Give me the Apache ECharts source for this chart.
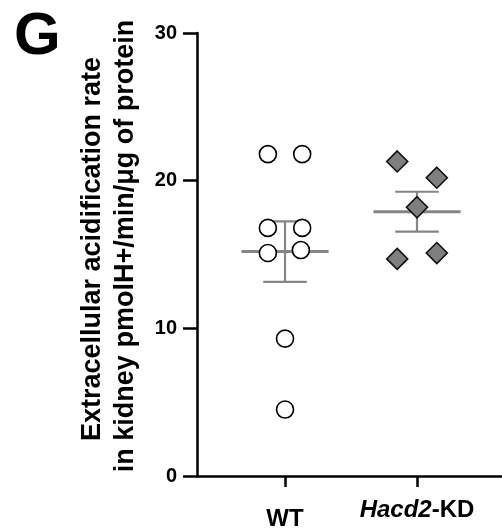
<!DOCTYPE html>
<html><head><meta charset="utf-8">
<script src="https://cdn.jsdelivr.net/npm/echarts@6/dist/echarts.min.js"></script>
<style>html,body{margin:0;padding:0;background:#fff}#c{width:502px;height:531px}</style>
</head><body><div id="c"></div>
<script>
var categories = ['WT', 'Hacd2-KD'];
var categoryX = [1, 2];
var wtValues = [21.8, 21.8, 16.8, 16.8, 15.1, 15.3, 9.3, 4.5];
var wtX = [0.87, 1.13, 0.87, 1.13, 0.87, 1.12, 1.0, 1.0];
var kdValues = [21.3, 20.2, 18.2, 14.7, 15.1];
var kdX = [1.85, 2.15, 2.0, 1.85, 2.15];
var means = [15.2, 17.9];
var sems = [2.05, 1.35];
var yTicks = [0, 10, 20, 30];

var chart = echarts.init(document.getElementById('c'), null, {renderer: 'canvas'});
var font = '"Liberation Sans", Arial, sans-serif';

function pts(xs, ys) { return ys.map(function (v, i) { return [xs[i], v]; }); }

var barData = categoryX.map(function (x, i) { return [x, means[i], means[i] - sems[i], means[i] + sems[i]]; });

chart.setOption({
  animation: false,
  backgroundColor: '#fff',
  grid: {left: 197, right: 0, top: 33, bottom: 54, containLabel: false},
  xAxis: {
    type: 'value', min: 0.333, max: 2.644,
    splitLine: {show: false},
    axisLine: {show: true, onZero: false, lineStyle: {color: '#000', width: 2.5}},
    axisTick: {show: true, customValues: categoryX, length: 11, lineStyle: {color: '#000', width: 2.5}},
    axisLabel: {
      show: true, customValues: categoryX, margin: 22,
      formatter: function (v) {
        var i = categoryX.indexOf(Math.round(v));
        if (i === 1) return '{it|Hacd2}{b|-KD}';
        return '{w|' + categories[0] + '}';
      },
      rich: {
        it: {fontFamily: font, fontWeight: 'bold', fontStyle: 'italic', fontSize: 24, color: '#000'},
        b: {fontFamily: font, fontWeight: 'bold', fontSize: 24, color: '#000'},
        w: {fontFamily: font, fontWeight: 'bold', fontSize: 24, color: '#000', padding: [9, 0, 0, 0]}
      }
    }
  },
  yAxis: {
    type: 'value', min: 0, max: 30, interval: 10,
    splitLine: {show: false},
    axisLine: {show: true, lineStyle: {color: '#000', width: 2.5}},
    axisTick: {show: true, length: 14, lineStyle: {color: '#000', width: 2.5}},
    axisLabel: {margin: 20, fontFamily: font, fontWeight: 'bold', fontSize: 20, color: '#000',
      formatter: function (v) { return yTicks.indexOf(v) >= 0 ? String(v) : ''; }}
  },
  graphic: [
    {type: 'text', left: 14, top: 7, style: {text: 'G', font: 'bold 60px ' + font, fill: '#000'}},
    {type: 'text', x: 93, y: 249, rotation: Math.PI / 2,
      style: {text: 'Extracellular acidification rate', font: 'bold 27px ' + font, fill: '#000', align: 'center', verticalAlign: 'middle'}},
    {type: 'text', x: 126, y: 246, rotation: Math.PI / 2,
      style: {text: 'in kidney pmolH+/min/\u03bcg of protein', font: 'bold 27px ' + font, fill: '#000', align: 'center', verticalAlign: 'middle'}}
  ],
  series: [
    {
      type: 'custom', z: 1,
      data: barData,
      renderItem: function (params, api) {
        var x = api.value(0);
        var m = api.coord([x, api.value(1)]);
        var lo = api.coord([x, api.value(2)]);
        var hi = api.coord([x, api.value(3)]);
        var mL = api.coord([x - 0.33, api.value(1)]);
        var mR = api.coord([x + 0.33, api.value(1)]);
        var cL = api.coord([x - 0.165, 0]);
        var cR = api.coord([x + 0.165, 0]);
        var st = {stroke: '#858585', lineWidth: 2.2};
        return {type: 'group', children: [
          {type: 'line', shape: {x1: m[0], y1: lo[1], x2: m[0], y2: hi[1]}, style: st},
          {type: 'line', shape: {x1: cL[0], y1: lo[1], x2: cR[0], y2: lo[1]}, style: st},
          {type: 'line', shape: {x1: cL[0], y1: hi[1], x2: cR[0], y2: hi[1]}, style: st},
          {type: 'line', shape: {x1: mL[0], y1: m[1], x2: mR[0], y2: m[1]}, style: {stroke: '#858585', lineWidth: 3}}
        ]};
      }
    },
    {
      type: 'scatter', z: 3, data: pts(wtX, wtValues), symbol: 'circle', symbolSize: 17,
      itemStyle: {color: '#fff', borderColor: '#000', borderWidth: 1.6, opacity: 1}
    },
    {
      type: 'scatter', z: 3, data: pts(kdX, kdValues), symbol: 'diamond', symbolSize: [21, 21],
      itemStyle: {color: '#7f7f7f', borderColor: '#111', borderWidth: 1.6, opacity: 1}
    }
  ]
});
</script></body></html>
